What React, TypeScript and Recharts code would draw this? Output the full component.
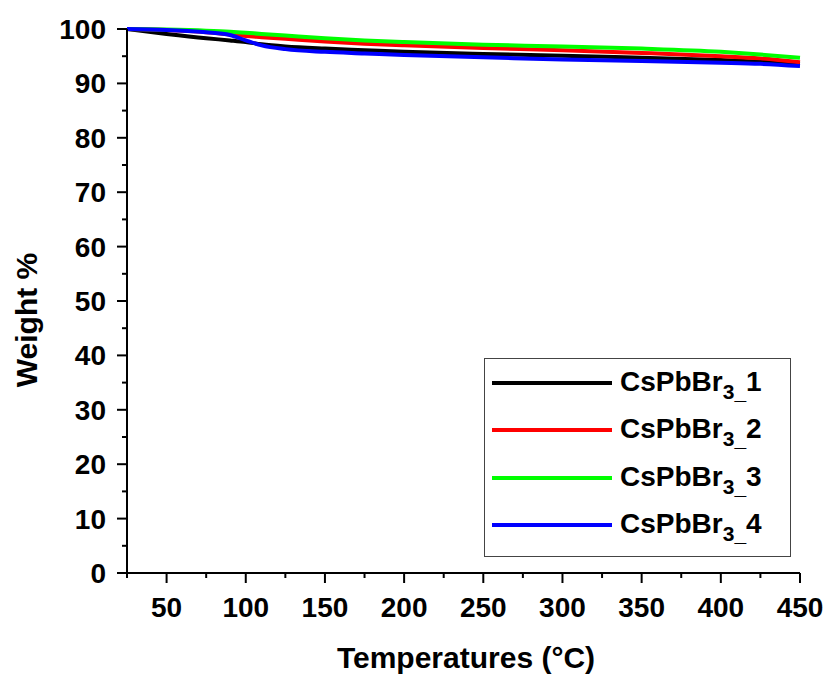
import { LineChart, Line, XAxis, YAxis } from "recharts";

const temps = [25, 50, 75, 90, 100, 110, 125, 150, 175, 200, 250, 300, 350, 400, 425, 450];
const sample1 = [100, 99.1, 98.3, 97.9, 97.6, 97.2, 96.8, 96.4, 96.1, 95.8, 95.4, 95.1, 94.7, 94.3, 94.0, 93.6];
const sample2 = [100, 99.8, 99.4, 99.0, 98.7, 98.5, 98.2, 97.7, 97.3, 97.0, 96.5, 96.1, 95.6, 95.0, 94.6, 93.9];
const sample3 = [100, 99.9, 99.7, 99.5, 99.3, 99.1, 98.8, 98.3, 97.9, 97.6, 97.1, 96.8, 96.4, 95.8, 95.3, 94.7];
const sample4 = [100, 99.8, 99.4, 98.9, 97.9, 97.0, 96.3, 95.8, 95.5, 95.2, 94.8, 94.4, 94.1, 93.8, 93.6, 93.2];

const xTicks = [25, 50, 75, 100, 125, 150, 175, 200, 225, 250, 275, 300, 325, 350, 375, 400, 425, 450];
const yTicks = [0, 5, 10, 15, 20, 25, 30, 35, 40, 45, 50, 55, 60, 65, 70, 75, 80, 85, 90, 95, 100];

const series = [
  { key: "s1", num: "1", color: "#000000" },
  { key: "s2", num: "2", color: "#ff0000" },
  { key: "s3", num: "3", color: "#00ff00" },
  { key: "s4", num: "4", color: "#0000ff" },
];

const data = temps.map((t, i) => ({
  t,
  s1: sample1[i],
  s2: sample2[i],
  s3: sample3[i],
  s4: sample4[i],
}));

const FONT = "'Liberation Sans', Arial, sans-serif";

const XTick = (props: any) => {
  const { x, y, payload } = props;
  const major = payload.value % 50 === 0;
  return (
    <g>
      <line x1={x} y1={y} x2={x} y2={y + (major ? 10 : 5)} stroke="#000" strokeWidth={2} />
      {major && (
        <text x={x} y={y + 44} textAnchor="middle" fontSize={28} fontWeight="bold" fontFamily={FONT} fill="#000">
          {payload.value}
        </text>
      )}
    </g>
  );
};

const TopTick = (props: any) => {
  const { x, y } = props;
  return <line x1={x} y1={y} x2={x} y2={y - 3} stroke="#000" strokeWidth={1.5} />;
};

const YTick = (props: any) => {
  const { x, y, payload } = props;
  const major = payload.value % 10 === 0;
  return (
    <g>
      <line x1={x} y1={y} x2={x - (major ? 10 : 5)} y2={y} stroke="#000" strokeWidth={2} />
      {major && (
        <text x={x - 21} y={y} dy="0.36em" textAnchor="end" fontSize={28} fontWeight="bold" fontFamily={FONT} fill="#000">
          {payload.value}
        </text>
      )}
    </g>
  );
};

const YTitle = () => (
  <text
    x={37}
    y={320}
    transform="rotate(-90 37 320)"
    textAnchor="middle"
    fontSize={30}
    fontWeight="bold"
    fontFamily={FONT}
    fill="#000"
  >
    Weight %
  </text>
);

const XTitle = () => (
  <text x={466} y={668} textAnchor="middle" fontSize={30} fontWeight="bold" fontFamily={FONT} fill="#000">
    Temperatures (°C)
  </text>
);

export default function App() {
  return (
    <div style={{ position: "absolute", left: 0, top: 0, width: 829, height: 677, background: "#fff", fontFamily: FONT }}>
      <LineChart width={829} height={677} data={data} margin={{ top: 29, right: 29, left: 0, bottom: 0 }}>
        <XAxis
          dataKey="t"
          type="number"
          domain={[25, 450]}
          ticks={xTicks}
          interval={0}
          height={104}
          tickSize={0}
          tickMargin={0}
          tick={<XTick />}
          axisLine={{ stroke: "#000", strokeWidth: 2 }}
          label={{ content: () => <XTitle /> }}
        />
        <XAxis
          xAxisId="top"
          orientation="top"
          dataKey="t"
          type="number"
          domain={[25, 450]}
          ticks={xTicks}
          interval={0}
          height={0}
          tickSize={0}
          tickMargin={0}
          tick={<TopTick />}
          axisLine={{ stroke: "#000", strokeWidth: 2 }}
        />
        <YAxis
          type="number"
          domain={[0, 100]}
          ticks={yTicks}
          interval={0}
          width={127}
          tickSize={0}
          tickMargin={0}
          tick={<YTick />}
          axisLine={{ stroke: "#000", strokeWidth: 2 }}
          label={{ content: () => <YTitle /> }}
        />
        <YAxis
          yAxisId="right"
          orientation="right"
          type="number"
          domain={[0, 100]}
          width={0}
          tick={false}
          tickLine={false}
          axisLine={{ stroke: "#000", strokeWidth: 2 }}
        />
        {series.map((s) => (
          <Line
            key={s.key}
            type="monotone"
            dataKey={s.key}
            stroke={s.color}
            strokeWidth={4}
            dot={false}
            activeDot={false}
            isAnimationActive={false}
          />
        ))}
      </LineChart>
      <div
        style={{
          position: "absolute",
          left: 484,
          top: 358,
          width: 307,
          height: 199,
          boxSizing: "border-box",
          border: "1.5px solid #444",
          background: "#fff",
        }}
      />
      {series.map((s, i) => (
        <div
          key={s.key}
          style={{
            position: "absolute",
            left: 492,
            top: 383 + i * 47.3 - 16,
            height: 32,
            lineHeight: "32px",
            display: "flex",
            alignItems: "center",
            fontSize: 28,
            fontWeight: "bold",
            color: "#000",
            whiteSpace: "nowrap",
          }}
        >
          <span style={{ display: "inline-block", width: 120, height: 4, background: s.color, marginRight: 8 }} />
          <span>
            CsPbBr
            <span style={{ fontSize: 21, position: "relative", top: 8 }}>3_</span>
            {s.num}
          </span>
        </div>
      ))}
    </div>
  );
}
